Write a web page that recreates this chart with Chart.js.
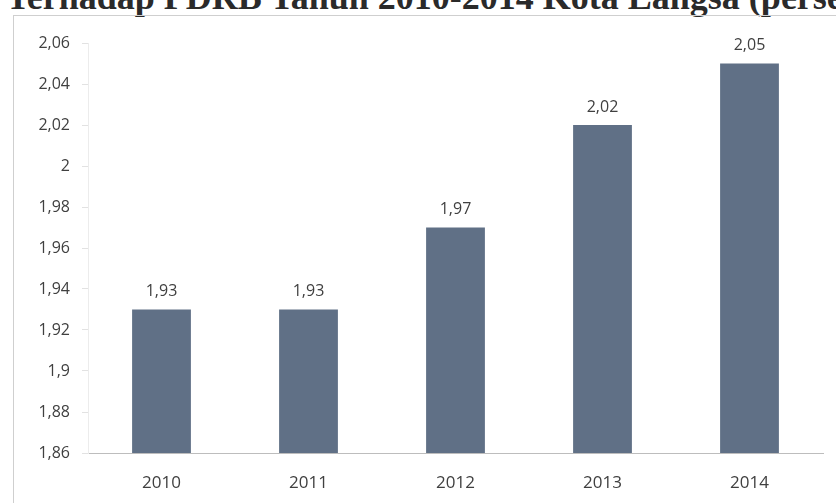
<!DOCTYPE html>
<html>
<head>
<meta charset="utf-8">
<script src="https://cdn.jsdelivr.net/npm/chart.js@4.4.1/dist/chart.umd.min.js"></script>
<style>
  html, body { margin: 0; padding: 0; background: #fff; }
  #wrap { position: relative; width: 836px; height: 503px; overflow: hidden; }
  #title {
    position: absolute; left: 6px; top: -24px; white-space: nowrap;
    font: bold 36px "Liberation Serif", serif; color: #2a2a2a;
  }
  #frame {
    position: absolute; left: 13px; top: 15px; width: 830px; height: 500px;
    border-left: 1px solid #cfcfcf; border-top: 1px solid #cfcfcf;
  }
  #chart { position: absolute; left: 0; top: 0; }
</style>
</head>
<body>
<div id="wrap">
  <div id="title">Terhadap PDRB Tahun 2010-2014 Kota Langsa (persen)</div>
  <div id="frame"></div>
  <canvas id="chart" width="836" height="503"></canvas>
</div>
<script>
// kontribusi per tahun (persen)
const years = ['2010', '2011', '2012', '2013', '2014'];
const values = [1.93, 1.93, 1.97, 2.02, 2.05];
const yMin = 1.86;
const yMax = 2.06;
const yStep = 0.02;

// angka gaya Indonesia: koma desimal, tanpa nol di belakang
const fmt = v => {
    let s = v.toFixed(2).replace(/0+$/, '').replace(/\.$/, '');
    return s.replace('.', ',');
};

// label nilai di atas batang
const barLabels = {
    id: 'barLabels',
    afterDatasetsDraw(chart) {
        const ctx = chart.ctx;
        const meta = chart.getDatasetMeta(0);
        ctx.save();
        ctx.font = '16px "Open Sans", sans-serif';
        ctx.fillStyle = '#404040';
        ctx.textAlign = 'center';
        ctx.textBaseline = 'middle';
        meta.data.forEach((bar, i) => {
            ctx.fillText(fmt(values[i]), bar.x, bar.y - 18);
        });
        ctx.restore();
    }
};

new Chart(document.getElementById('chart'), {
    type: 'bar',
    data: {
        labels: years,
        datasets: [{
            data: values,
            backgroundColor: '#607086',
            borderWidth: 0,
            barPercentage: 0.4,
            categoryPercentage: 1
        }]
    },
    options: {
        responsive: false,
        animation: false,
        layout: { padding: { left: 0, right: 13, top: 43, bottom: 0 } },
        plugins: { legend: { display: false }, tooltip: { enabled: false } },
        scales: {
            x: {
                grid: { display: false },
                border: { color: '#bdbdbd', width: 1 },
                ticks: { color: '#404040', font: { family: 'Open Sans', size: 17 }, padding: 12 },
                afterFit: s => { s.height = 50; }
            },
            y: {
                min: yMin,
                max: yMax,
                grid: { drawOnChartArea: false, color: '#e2e2e2', tickLength: 6 },
                border: { color: '#ececec' },
                ticks: {
                    stepSize: yStep,
                    color: '#404040',
                    font: { family: 'Open Sans', size: 16 },
                    padding: 12,
                    callback: v => fmt(v)
                },
                afterFit: s => { s.width = 88; }
            }
        }
    },
    plugins: [barLabels]
});
</script>
</body>
</html>
